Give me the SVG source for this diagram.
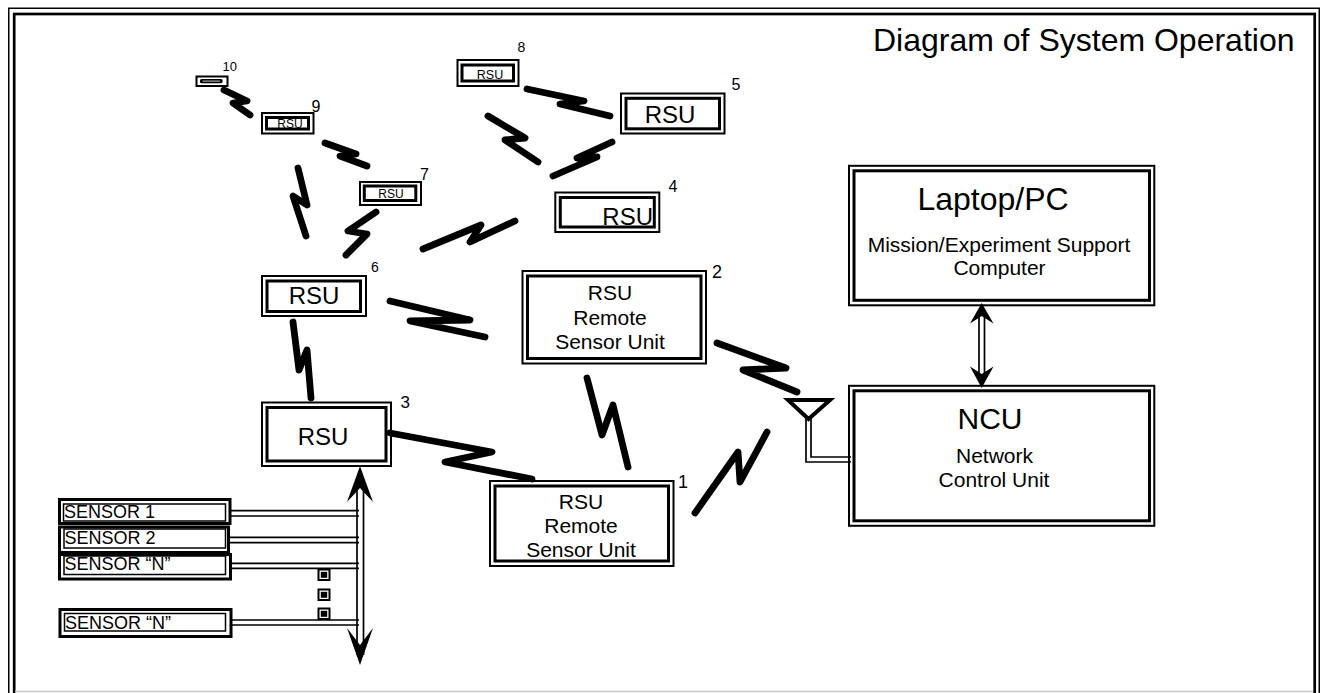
<svg xmlns="http://www.w3.org/2000/svg" width="1322" height="693" viewBox="0 0 1322 693">
<style>
text{font-family:"Liberation Sans",Arial,sans-serif;fill:#000}
.o{fill:none;stroke:#000;stroke-width:2}
.i{fill:none;stroke:#000;stroke-width:3}
.so{fill:none;stroke:#000;stroke-width:3}
.si{fill:none;stroke:#000;stroke-width:1.5}
.z{fill:none;stroke:#000;stroke-width:6.8;stroke-linecap:round;stroke-linejoin:round}
.m{text-anchor:middle}
.dl{stroke:#000;stroke-width:1.7;fill:none}
.ah{fill:#000}
.n{font-size:16px}
.rb{font-size:24px}
.rs{font-size:12px}
.s{font-size:18px}
.t{font-size:21px}
</style>
<rect width="1322" height="693" fill="#fff"/>
<g id="frame">
<rect x="8.75" y="8.25" width="1310.5" height="720" fill="none" stroke="#000" stroke-width="1.5"/>
<rect x="14.2" y="14" width="1300.5" height="720" fill="none" stroke="#000" stroke-width="2.7"/>
<line x1="15" y1="691.5" x2="1313" y2="691.5" stroke="#c8c8c8" stroke-width="1.5"/>
<text x="873" y="51" style="font-size:32px">Diagram of System Operation</text>
</g>
<g id="connectors">
<path class="z" d="M224,90 L247,101 L233,103 L250,115"/>
<path class="z" d="M325,143 L356,154 L340,156 L367,166"/>
<path class="z" d="M298,168 L307,205 L293,196 L306,236"/>
<path class="z" d="M376,212 L348,231 L367,234 L346,255"/>
<path class="z" d="M423,249 L481,225 L470,242 L515,221"/>
<path class="z" d="M527,89 L584,101 L560,104 L610,116"/>
<path class="z" d="M488,116 L525,138 L505,140 L538,162"/>
<path class="z" d="M612,142 L577,158 L597,157 L553,176"/>
<path class="z" d="M390,301 L470,320 L410,321 L485,337"/>
<path class="z" d="M293,322 L299,370 L307,350 L311,398"/>
<path class="z" d="M390,433 L492,452 L445,462 L532,479"/>
<path class="z" d="M587,378 L602,435 L613,405 L628,467"/>
<path class="z" d="M717,343 L786,368 L743,370 L797,392"/>
<path class="z" d="M695,513 L738,452 L740,482 L767,432"/>
<g id="bus">
<line class="dl" x1="357" y1="480" x2="357" y2="655"/>
<line class="dl" x1="363.5" y1="480" x2="363.5" y2="655"/>
<polygon class="ah" points="360,466 373,502 360,488 347,502"/>
<polygon class="ah" points="360,665 373,628 360,645 347,628"/>
<path class="dl" d="M231,510.7 H359 M231,516 H359"/>
<path class="dl" d="M229,537.3 H359 M229,542.7 H359"/>
<path class="dl" d="M231,563.3 H359 M231,568.3 H359"/>
<path class="dl" d="M232,620 H359 M232,625 H359"/>
<g id="dots">
<rect x="317.5" y="568.5" width="13" height="12.5" fill="#000"/><rect x="319.5" y="570.5" width="9" height="8.5" fill="#fff"/><rect x="320.8" y="571.8" width="6.4" height="6" fill="#000"/>
<rect x="317.5" y="588.5" width="13" height="12.5" fill="#000"/><rect x="319.5" y="590.5" width="9" height="8.5" fill="#fff"/><rect x="320.8" y="591.8" width="6.4" height="6" fill="#000"/>
<rect x="317.5" y="607.5" width="13" height="12.5" fill="#000"/><rect x="319.5" y="609.5" width="9" height="8.5" fill="#fff"/><rect x="320.8" y="610.8" width="6.4" height="6" fill="#000"/>
</g>
</g>
<g id="pc-ncu">
<line class="dl" x1="979" y1="312" x2="979" y2="378"/>
<line class="dl" x1="984.5" y1="312" x2="984.5" y2="378"/>
<polygon class="ah" points="981.7,303 993.5,323.5 981.7,316 970,323.5"/>
<polygon class="ah" points="981.7,388 993.5,366.5 981.7,374 970,366.5"/>
</g>
<g id="antenna">
<path class="dl" d="M806,418 V462 H851"/>
<path class="dl" d="M811,418 V457 H851"/>
<polygon points="788,400 830,400 808.5,419" fill="#fff" stroke="#000" stroke-width="4"/>
</g>
</g>
<g id="node10">
<rect x="196.5" y="76.5" width="31" height="9.5" class="o"/>
<rect x="200" y="79" width="22.5" height="4.2" rx="1.5" fill="#000"/>
<line x1="202.5" y1="81.1" x2="220" y2="81.1" stroke="#fff" stroke-width="0.8"/>
<text x="222.5" y="71" style="font-size:13px">10</text>
</g>
<g id="node9">
<rect x="262" y="113" width="51.5" height="20.5" class="o"/>
<rect x="266.5" y="117.5" width="42" height="11.5" class="i"/>
<text x="290" y="127.5" class="rs m">RSU</text>
<text x="311.5" y="111.5" class="n">9</text>
</g>
<g id="node7">
<rect x="360" y="182" width="61" height="23" class="o"/>
<rect x="364.3" y="186" width="51.5" height="14.5" class="i"/>
<text x="391" y="197.5" class="rs m">RSU</text>
<text x="420" y="180" class="n">7</text>
</g>
<g id="node8">
<rect x="457.5" y="60" width="61" height="26" class="o"/>
<rect x="462" y="65" width="51.5" height="16" class="i"/>
<text x="490" y="78.5" class="m" style="font-size:12.5px">RSU</text>
<text x="517.5" y="51.5" style="font-size:14px">8</text>
</g>
<g id="node5">
<rect x="621" y="93.5" width="103.5" height="40" class="o"/>
<rect x="626" y="98.3" width="93.5" height="30.5" class="i"/>
<text x="670" y="122.7" class="rb m">RSU</text>
<text x="731.5" y="90" class="n">5</text>
</g>
<g id="node4">
<rect x="555.3" y="192.5" width="104" height="39.5" class="o"/>
<rect x="560.3" y="197.5" width="94" height="29.5" class="i"/>
<text x="653" y="225" class="rb" text-anchor="end">RSU</text>
<text x="668.5" y="191.5" class="n">4</text>
</g>
<g id="node6">
<rect x="262" y="276" width="104" height="40" class="o"/>
<rect x="267" y="281" width="93.5" height="30.5" class="i"/>
<text x="314" y="303.5" class="rb m">RSU</text>
<text x="371" y="271.5" style="font-size:14px">6</text>
</g>
<g id="node3">
<rect x="262" y="402.5" width="129" height="63.5" class="o"/>
<rect x="267" y="407.5" width="119" height="53.5" class="i"/>
<text x="323" y="445" class="rb m">RSU</text>
<text x="400.5" y="408" style="font-size:17px">3</text>
</g>
<g id="node2">
<rect x="522.5" y="271" width="183.5" height="92.5" class="o"/>
<rect x="527.5" y="276" width="173.5" height="82.5" class="i"/>
<text x="610" y="300" class="t m">RSU</text>
<text x="610" y="325" class="t m">Remote</text>
<text x="610" y="348.5" class="t m">Sensor Unit</text>
<text x="712" y="278" class="s">2</text>
</g>
<g id="node1">
<rect x="490" y="481" width="183.5" height="85" class="o"/>
<rect x="495" y="486" width="173.5" height="75" class="i"/>
<text x="581" y="508.5" class="t m">RSU</text>
<text x="581" y="533" class="t m">Remote</text>
<text x="581" y="557" class="t m">Sensor Unit</text>
<text x="678" y="488" class="s">1</text>
</g>
<g id="laptop">
<rect x="849" y="165.8" width="305.3" height="139.5" class="o"/>
<rect x="854" y="170.8" width="295.5" height="129.5" class="i"/>
<text x="993" y="209.5" class="m" style="font-size:32px">Laptop/PC</text>
<text x="999" y="252" class="t m">Mission/Experiment Support</text>
<text x="999.5" y="275" class="t m">Computer</text>
</g>
<g id="ncu">
<rect x="849" y="385.8" width="305.3" height="140" class="o"/>
<rect x="854" y="390.8" width="295.5" height="130" class="i"/>
<text x="990" y="428.5" class="m" style="font-size:30px">NCU</text>
<text x="994.5" y="463" class="t m">Network</text>
<text x="994" y="487" class="t m">Control Unit</text>
</g>
<g id="sensor1">
<rect x="59.5" y="499.5" width="170.5" height="24" class="so"/>
<rect x="63.5" y="504" width="162" height="17" class="si"/>
<text x="64" y="517.5" class="s">SENSOR 1</text>
</g>
<g id="sensor2">
<rect x="59.5" y="527" width="169" height="25.5" class="so"/>
<rect x="64" y="529" width="161.5" height="19" class="si"/>
<text x="64.5" y="543.5" class="s">SENSOR 2</text>
</g>
<g id="sensorN1">
<rect x="59.5" y="554.5" width="171" height="24.5" class="so"/>
<rect x="64" y="556" width="161.5" height="18.5" class="si"/>
<text x="64.5" y="570" class="s">SENSOR “N”</text>
</g>
<g id="sensorN2">
<rect x="60" y="609.5" width="171" height="27" class="so"/>
<rect x="64.5" y="613.5" width="161" height="17.5" class="si"/>
<text x="65" y="628.5" class="s">SENSOR “N”</text>
</g>
</svg>
